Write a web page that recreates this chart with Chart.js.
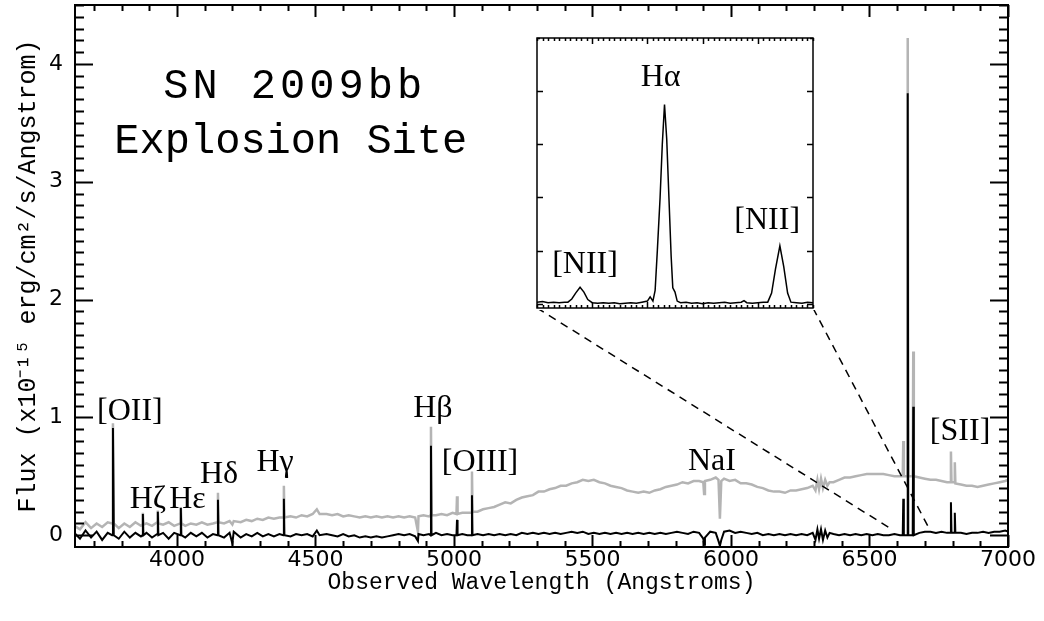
<!DOCTYPE html>
<html>
<head>
<meta charset="utf-8">
<script src="https://cdn.jsdelivr.net/npm/chart.js@4.4.1/dist/chart.umd.min.js"></script>
<style>
body { margin: 0; background: #fff; }
#wrap { position: relative; width: 1044px; height: 621px; }
#insetChart { position: absolute; left: 535px; top: 36px; background: #fff; }
</style>
</head>
<body>
<div id="wrap">
<canvas id="mainChart" width="1044" height="621"></canvas>
<canvas id="insetChart" width="280" height="274"></canvas>
</div>
<script>
// Observed wavelength (Angstrom) and flux (1e-15 erg/cm2/s/A)
const wavelength = [
    3630, 3650, 3670, 3690, 3710, 3730, 3750, 3766, 3769, 3772,
    3790, 3810, 3830, 3850, 3870, 3875, 3877, 3879, 3890, 3910,
    3929, 3931, 3933, 3950, 3970, 3990, 4012, 4014, 4016, 4030,
    4050, 4070, 4090, 4110, 4130, 4146, 4148, 4150, 4170, 4190,
    4200, 4205, 4230, 4250, 4270, 4290, 4310, 4330, 4350, 4370,
    4384, 4386, 4388, 4410, 4430, 4450, 4470, 4490, 4505, 4515,
    4540, 4560, 4580, 4600, 4620, 4640, 4660, 4680, 4700, 4720,
    4740, 4760, 4780, 4800, 4820, 4840, 4860, 4870, 4872, 4890,
    4910, 4915, 4917, 4919, 4935, 4955, 4975, 4995, 5009, 5011,
    5013, 5030, 5048, 5063, 5065, 5067, 5085, 5105, 5125, 5145,
    5165, 5185, 5205, 5225, 5245, 5265, 5285, 5305, 5325, 5345,
    5365, 5385, 5405, 5425, 5445, 5465, 5485, 5505, 5525, 5545,
    5565, 5585, 5605, 5625, 5645, 5665, 5685, 5705, 5725, 5745,
    5765, 5785, 5805, 5825, 5845, 5865, 5885, 5900, 5903, 5906,
    5925, 5945, 5955, 5960, 5965, 5975, 5995, 6015, 6035, 6055,
    6075, 6095, 6115, 6135, 6155, 6175, 6195, 6215, 6235, 6255,
    6275, 6295, 6305, 6312, 6318, 6325, 6332, 6340, 6348, 6356,
    6370, 6390, 6410, 6430, 6450, 6470, 6490, 6510, 6530, 6550,
    6570, 6590, 6610, 6620, 6622, 6624, 6636, 6638, 6640, 6656,
    6658, 6660, 6680, 6700, 6720, 6740, 6760, 6780, 6792, 6794,
    6796, 6806, 6808, 6810, 6830, 6850, 6870, 6890, 6910, 6930,
    6950, 6970, 6990, 7000
];
// gray: total spectrum incl. host continuum
const fluxTotal = [
    .08, .05, .11, .06, .10, .07, .11, .10, .95, .10,
    .06, .10, .07, .11, .08, .09, .19, .09, .10, .08,
    .11, .21, .10, .09, .11, .08, .10, .24, .10, .08,
    .10, .09, .11, .09, .10, .11, .36, .11, .10, .12,
    .09, .12, .11, .13, .12, .14, .13, .15, .14, .15,
    .15, .42, .15, .16, .15, .17, .16, .18, .22, .18,
    .18, .17, .18, .16, .17, .16, .15, .16, .15, .16,
    .15, .16, .15, .16, .15, .16, .15, .03, .16, .17,
    .16, .17, .92, .17, .17, .18, .17, .19, .18, .33,
    .18, .19, .19, .19, .54, .20, .20, .22, .23, .24,
    .26, .28, .27, .30, .32, .33, .34, .37, .37, .39,
    .40, .42, .42, .44, .45, .47, .46, .47, .45, .44,
    .42, .41, .40, .38, .37, .36, .37, .36, .38, .39,
    .41, .42, .43, .45, .44, .46, .46, .45, .35, .46,
    .47, .49, .47, .14, .46, .48, .46, .47, .44, .44,
    .43, .41, .40, .38, .37, .37, .36, .38, .38, .39,
    .40, .42, .38, .47, .39, .48, .40, .47, .42, .45,
    .45, .47, .49, .49, .50, .51, .52, .52, .52, .52,
    .51, .50, .50, .50, .80, .50, .50, 4.22, .50, .50,
    1.56, .50, .49, .48, .47, .47, .46, .45, .45, .71,
    .45, .45, .62, .44, .43, .42, .42, .41, .42, .43,
    .44, .45, .46, .47
];
// black: continuum-subtracted spectrum
const fluxNet = [
    .02, -.03, .04, -.02, .03, -.04, .02, .00, .91, .00,
    -.03, .03, -.02, .02, -.01, .00, .18, .00, .02, -.02,
    .01, .20, .00, .02, -.03, .02, .00, .23, .00, -.02,
    .02, -.01, .02, -.02, .01, .00, .30, .00, -.02, .02,
    -.07, .03, -.02, .01, -.01, .02, -.01, .01, -.01, .01,
    .00, .31, .00, -.01, .01, .00, .01, -.01, .04, .00,
    .01, .00, -.01, .01, -.01, .00, -.02, -.01, -.02, -.01,
    -.02, -.01, .00, .01, .00, .01, -.01, -.05, .01, .00,
    .01, .00, .76, .00, .02, .00, .01, .00, .00, .13,
    .00, .01, .00, .00, .34, .00, .01, .00, .01, .00,
    .01, .00, .01, .00, .02, .01, .02, .01, .02, .01,
    .02, .01, .02, .03, .02, .03, .01, .02, .01, .02,
    .01, .02, .01, .02, .01, .02, .01, .02, .01, .02,
    .01, .02, .03, .02, .01, .03, .02, -.03, -.08, -.02,
    .03, .02, -.05, -.09, -.04, .03, .04, .02, .03, .02,
    .01, .02, .00, .01, .00, .01, .00, .01, .00, .01,
    .00, .02, -.04, .05, -.03, .05, -.04, .04, -.02, .02,
    .01, .00, .01, .00, .01, .00, .01, .00, .01, .00,
    .00, .01, .00, .00, .31, .00, .00, 3.75, .00, .00,
    1.09, .00, .02, .03, .03, .02, .03, .02, .02, .28,
    .02, .02, .19, .02, .02, .01, .02, .02, .03, .02,
    .03, .03, .04, .03
];

// zoom on H-alpha / [NII]
const insetWave = [
    6600, 6601, 6602, 6603, 6604, 6605,
    6605.6, 6606.3, 6607, 6607.8, 6608.5, 6609.2,
    6610, 6611, 6612, 6613, 6614, 6615, 6616, 6617, 6618, 6619, 6620,
    6620.5, 6621, 6621.4, 6621.8, 6622.3, 6622.7, 6623.1, 6623.5, 6623.9, 6624.3, 6624.6, 6625, 6625.4,
    6626, 6627, 6628, 6629, 6630, 6631, 6632, 6633, 6634, 6635, 6636, 6637,
    6637.5, 6638, 6639, 6640, 6641,
    6641.8, 6642.5, 6643.2, 6644, 6644.7, 6645.4,
    6646, 6647, 6648, 6649, 6650
];
const insetFlux = [
    .03, .04, .02, .03, .02, .03,
    .03, .09, .20, .31, .22, .08,
    .02, .01, .02, .01, .02, .00, .01, .02, .01, .03, .05,
    .13, .05, .25, 1.0, 2.0, 3.0, 3.75, 3.1, 2.0, .9, .3, .22, .05,
    .02, .03, .01, .02, .00, .02, .01, .02, .03, .01, .02, .03,
    .06, .02, .01, .02, .03,
    .03, .20, .65, 1.09, .70, .20,
    .03, .02, .01, .03, .02
];

const xTicks = [4000, 4500, 5000, 5500, 6000, 6500, 7000];
const yTicks = [0, 1, 2, 3, 4];
const insetXTicks = [6610, 6620, 6630, 6640];
const insetYTicks = [0, 1, 2, 3, 4];

// line identifications: text, wavelength, flux (baseline of text)
const lineNames = ['[OII]', 'H\u03B6', 'H\u03B5', 'H\u03B4', 'H\u03B3', 'H\u03B2', '[OIII]', 'NaI', '[SII]'];
const lineNameWave = [3830, 3895, 4038, 4152, 4354, 4924, 5094, 5931, 6827];
const lineNameFlux = [0.98, 0.23, 0.23, 0.44, 0.545, 1.0, 0.545, 0.55, 0.81];
const insetNames = ['H\u03B1', '[NII]', '[NII]'];
const insetNameWave = [6622.4, 6608.7, 6641.7];
const insetNameFlux = [4.09, 0.58, 1.40];

const labelFont = '32px "Liberation Serif"';
const tickFont = { family: 'DejaVu Sans', size: 22 };
const monoFont = { family: 'Liberation Mono', size: 23 };

// inset placement inside the page (chart area of the inset canvas)
const insetBox = { left: 537, top: 38, right: 813, bottom: 308 };

function pts(xs, ys) {
    return xs.map((w, i) => ({ x: w, y: ys[i] }));
}

// box frame with inward ticks, IDL style
const frameTicks = {
    id: 'frameTicks',
    afterDatasetsDraw(chart, args, o) {
        const { ctx, chartArea: a, scales: { x, y } } = chart;
        ctx.save();
        ctx.strokeStyle = '#000';
        ctx.lineWidth = o.width;
        ctx.beginPath();
        for (let i = Math.ceil(x.min / o.xMinor); i <= Math.floor(x.max / o.xMinor); i++) {
            const v = i * o.xMinor;
            const px = Math.round(x.getPixelForValue(v)) + 0.5;
            const len = o.xMajor.includes(v) ? o.xLen : o.xLen / 2;
            ctx.moveTo(px, a.bottom); ctx.lineTo(px, a.bottom - len);
            ctx.moveTo(px, a.top); ctx.lineTo(px, a.top + len);
        }
        const yStep = o.yMinor || 1;
        for (let i = Math.ceil(y.min / yStep); i <= Math.floor(y.max / yStep); i++) {
            const v = Math.round(i * yStep * 1000) / 1000;
            const py = Math.round(y.getPixelForValue(v)) + 0.5;
            if (py >= a.bottom - 1) continue;
            const len = o.yMajor.includes(v) ? o.yLen : o.yLen / 2;
            ctx.moveTo(a.left, py); ctx.lineTo(a.left + len, py);
            ctx.moveTo(a.right, py); ctx.lineTo(a.right - len, py);
        }
        ctx.stroke();
        ctx.strokeRect(a.left, a.top, a.right - a.left, a.bottom - a.top);
        ctx.restore();
    }
};

const textMarks = {
    id: 'textMarks',
    afterDatasetsDraw(chart, args, o) {
        const { ctx, scales: { x, y } } = chart;
        ctx.save();
        ctx.fillStyle = '#000';
        ctx.textAlign = 'center';
        ctx.textBaseline = 'alphabetic';
        ctx.font = labelFont;
        o.names.forEach((t, i) => {
            ctx.fillText(t, x.getPixelForValue(o.wave[i]), y.getPixelForValue(o.flux[i]));
        });
        if (o.title) {
            ctx.font = '42px "Liberation Mono"';
            ctx.letterSpacing = '4px';
            ctx.fillText('SN 2009bb', x.getPixelForValue(4425), y.getPixelForValue(3.71));
            ctx.letterSpacing = '0px';
            ctx.fillText('Explosion Site', x.getPixelForValue(4411), y.getPixelForValue(3.245));
        }
        if (o.zoomLines) {
            ctx.setLineDash([8, 6]);
            ctx.lineWidth = 1.5;
            ctx.strokeStyle = '#000';
            ctx.beginPath();
            ctx.moveTo(insetBox.left, insetBox.bottom);
            ctx.lineTo(x.getPixelForValue(6574), y.getPixelForValue(0.06));
            ctx.moveTo(insetBox.right, insetBox.bottom);
            ctx.lineTo(x.getPixelForValue(6718), y.getPixelForValue(0.045));
            ctx.stroke();
        }
        ctx.restore();
    }
};

// Main spectrum
const mainCtx = document.getElementById('mainChart').getContext('2d');
const mainChart = new Chart(mainCtx, {
    type: 'scatter',
    data: {
        datasets: [{
            data: pts(wavelength, fluxNet),
            showLine: true,
            borderColor: '#000',
            borderWidth: 2,
            pointRadius: 0,
            order: 0
        }, {
            data: pts(wavelength, fluxTotal),
            showLine: true,
            borderColor: '#b4b4b4',
            borderWidth: 2.5,
            pointRadius: 0,
            order: 1
        }]
    },
    options: {
        responsive: false,
        animation: false,
        layout: { padding: { top: 5, right: 36, left: 0, bottom: 0 } },
        plugins: {
            legend: { display: false },
            tooltip: { enabled: false },
            frameTicks: { width: 2, xMajor: xTicks, xMinor: 100, xLen: 12, yMajor: yTicks, yMinor: 0.1, yLen: 18 },
            textMarks: { names: lineNames, wave: lineNameWave, flux: lineNameFlux, title: true, zoomLines: true }
        },
        scales: {
            x: {
                type: 'linear',
                min: 3632,
                max: 7000,
                grid: { display: false, drawTicks: false },
                border: { display: false },
                afterBuildTicks: s => { s.ticks = xTicks.map(v => ({ value: v })); },
                afterFit: s => { s.height = 74; s.paddingLeft = 0; s.paddingRight = 0; },
                ticks: { font: tickFont, color: '#000', padding: 0, maxRotation: 0, autoSkip: false, callback: v => String(v) },
                title: { display: true, text: 'Observed Wavelength (Angstroms)', font: monoFont, color: '#000', padding: { top: 0, bottom: 24 } }
            },
            y: {
                min: -0.1,
                max: 4.5,
                grid: { display: false, drawTicks: false },
                border: { display: false },
                afterBuildTicks: s => { s.ticks = yTicks.map(v => ({ value: v })); },
                afterFit: s => { s.width = 75; s.paddingTop = 0; s.paddingBottom = 0; },
                ticks: { font: tickFont, color: '#000', padding: 12, callback: v => String(v) },
                title: { display: true, text: 'Flux (x10\u207B\u00B9\u2075 erg/cm\u00B2/s/Angstrom)', font: { family: 'Liberation Mono', size: 25 }, color: '#000', padding: { top: 13, bottom: 0 } }
            }
        }
    },
    plugins: [frameTicks, textMarks]
});

// Inset
const insetCtx = document.getElementById('insetChart').getContext('2d');
const insetChart = new Chart(insetCtx, {
    type: 'scatter',
    data: {
        datasets: [{
            data: pts(insetWave, insetFlux),
            showLine: true,
            borderColor: '#000',
            borderWidth: 1.5,
            pointRadius: 0
        }]
    },
    options: {
        responsive: false,
        animation: false,
        layout: { padding: 2 },
        plugins: {
            legend: { display: false },
            tooltip: { enabled: false },
            frameTicks: { width: 1.5, xMajor: insetXTicks, xMinor: 1, xLen: 6, yMajor: insetYTicks, yMinor: 0, yLen: 6 },
            textMarks: { names: insetNames, wave: insetNameWave, flux: insetNameFlux }
        },
        scales: {
            x: { type: 'linear', min: 6600, max: 6650, display: false },
            y: { min: -0.08, max: 5.0, display: false }
        }
    },
    plugins: [frameTicks, textMarks]
});
</script>
</body>
</html>
